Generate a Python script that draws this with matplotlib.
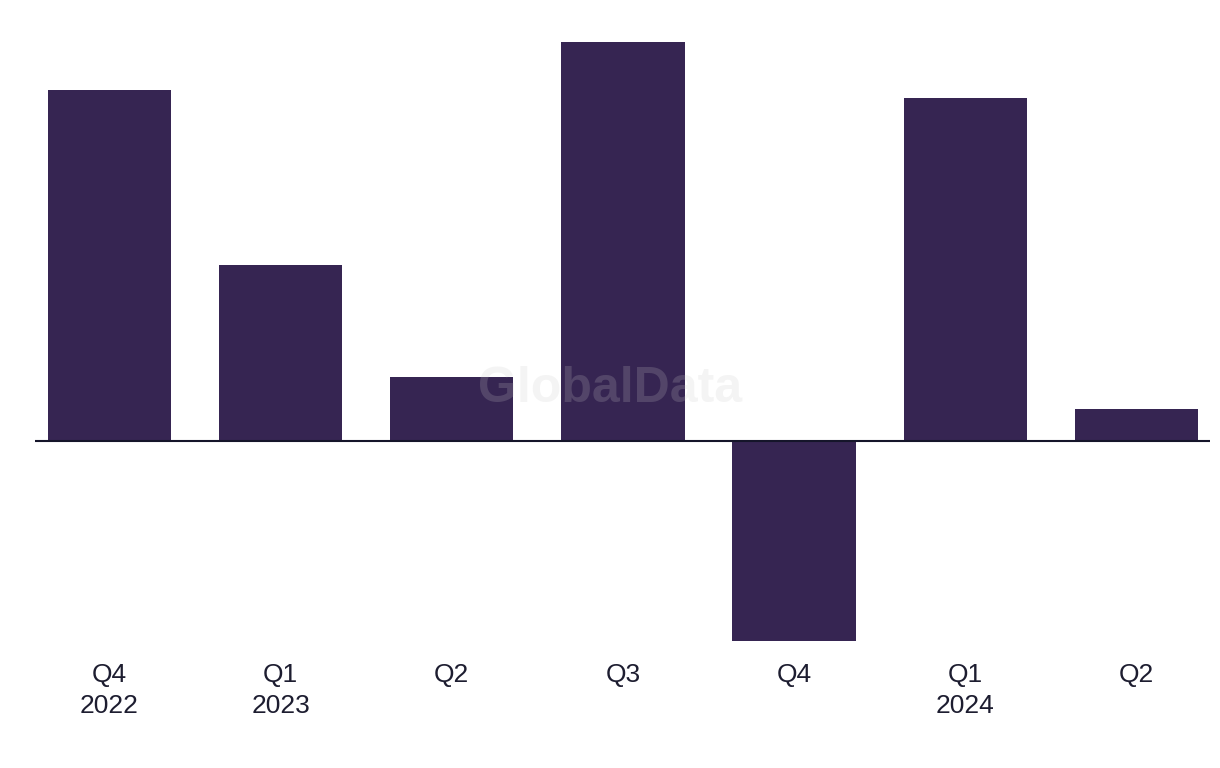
import matplotlib
matplotlib.use('Agg')
import matplotlib.pyplot as plt

# quarterly values (arbitrary units)
quarters = ['Q4\n2022', 'Q1\n2023', 'Q2', 'Q3', 'Q4', 'Q1\n2024', 'Q2']
values = [8.8, 4.4, 1.6, 10.0, -5.0, 8.6, 0.8]

bar_color = '#362552'
text_color = '#1d1d30'

plt.rcParams['font.family'] = ['Liberation Sans', 'DejaVu Sans']

fig = plt.figure(figsize=(12.2, 7.68), dpi=100)
ax = fig.add_axes([35/1220, 0.140, 1175/1220, 0.8314])

x = range(len(values))
ax.bar(x, values, width=0.72, color=bar_color, zorder=2)
ax.axhline(0, color='#15152a', linewidth=1.5, zorder=3)

ax.set_xlim(-0.435, 6.43)
ax.set_ylim(-5.5, 10.5)

ax.set_xticks(list(x))
ax.set_xticklabels(quarters, fontsize=19, color=text_color, linespacing=1.35)
ax.tick_params(axis='x', length=0, pad=2)
ax.set_yticks([])
for s in ax.spines.values():
    s.set_visible(False)

# watermark
fig.text(0.5, 0.494, 'GlobalData', fontsize=36, fontweight='bold', color='#c8c8c8',
         alpha=0.2, ha='center', va='center', zorder=10)

fig.savefig('out.png', dpi=100)
